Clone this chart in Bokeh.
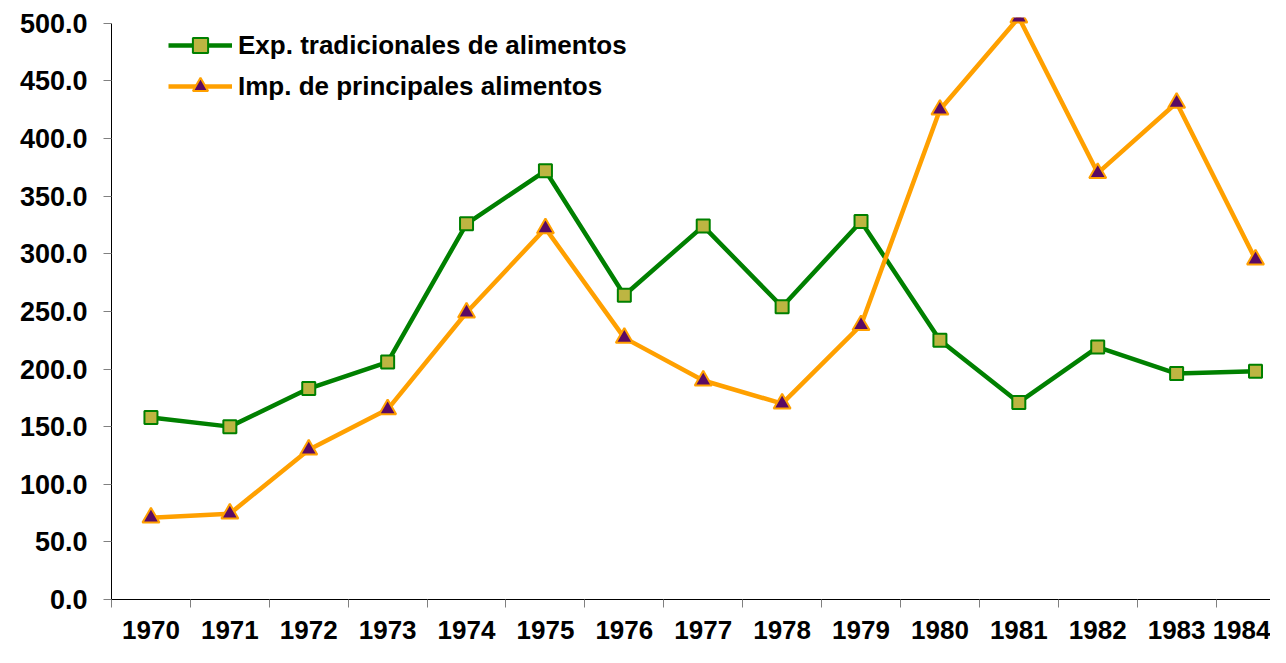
from bokeh.plotting import figure
from bokeh.models import (Range1d, FixedTicker, PrintfTickFormatter, Legend, LegendItem,
                          ColumnDataSource, LinearAxis)
from bokeh.embed import file_html
from bokeh.resources import INLINE

years = ["1970", "1971", "1972", "1973", "1974", "1975", "1976", "1977",
         "1978", "1979", "1980", "1981", "1982", "1983", "1984"]
exp_trad = [158, 150, 183, 206, 326, 372, 264, 324, 254, 328, 225, 171, 219, 196, 198]
imp_princ = [71, 74.5, 130, 165, 249, 322, 227, 190, 170, 238, 425, 505, 370, 431, 295]
y_ticks = [0, 50, 100, 150, 200, 250, 300, 350, 400, 450, 500]

xs = [i + 0.5 for i in range(len(years))]
src = ColumnDataSource(dict(x=xs, exp=exp_trad, imp=imp_princ))

W, H = 1270, 647
p = figure(width=W, height=H, output_backend="svg", toolbar_location=None,
           x_range=Range1d(0, 14.69), y_range=Range1d(0, 505),
           min_border_left=111, min_border_right=0, min_border_top=17, min_border_bottom=48,
           x_axis_location=None, y_axis_location=None)
p.outline_line_color = None
p.xgrid.visible = False
p.ygrid.visible = False
p.background_fill_color = "white"
p.border_fill_color = "white"

FONT = "Liberation Sans"

yax = LinearAxis(ticker=FixedTicker(ticks=y_ticks), formatter=PrintfTickFormatter(format="%.1f"))
yax.bounds = (0, 500)
yax.axis_line_color = "black"
yax.axis_line_width = 1
yax.major_tick_in = 0
yax.major_tick_out = 8
yax.major_tick_line_color = "#808080"
yax.minor_tick_line_color = None
yax.major_label_text_font = FONT
yax.major_label_text_font_style = "bold"
yax.major_label_text_font_size = "27px"
yax.major_label_text_color = "black"
yax.major_label_standoff = 16
p.add_layout(yax, "left")

xax = LinearAxis(ticker=FixedTicker(ticks=xs, minor_ticks=list(range(0, 15))),
                 major_label_overrides={x: y for x, y in zip(xs, years)})
xax.axis_line_color = "black"
xax.axis_line_width = 1
xax.major_tick_in = 0
xax.major_tick_out = 0
xax.major_tick_line_color = None
xax.minor_tick_in = 0
xax.minor_tick_out = 8
xax.minor_tick_line_color = "#808080"
xax.major_label_text_font = FONT
xax.major_label_text_font_style = "bold"
xax.major_label_text_font_size = "26px"
xax.major_label_text_color = "black"
xax.major_label_standoff = 13
p.add_layout(xax, "below")

GREEN = "#008000"
ORANGE = "#FFA000"

l1 = p.line("x", "exp", source=src, line_color=GREEN, line_width=4.5)
s1 = p.scatter("x", "exp", source=src, marker="square", size=13,
               fill_color="#BDB542", line_color=GREEN, line_width=2)
l2 = p.line("x", "imp", source=src, line_color=ORANGE, line_width=4.5)
s2 = p.scatter("x", "imp", source=src, marker="triangle", size=17,
               fill_color="#5A0A64", line_color=ORANGE, line_width=2)

legend = Legend(items=[LegendItem(label="Exp. tradicionales de alimentos", renderers=[l1, s1]),
                       LegendItem(label="Imp. de principales alimentos", renderers=[l2, s2])],
                location=(57, 494), orientation="vertical")
legend.background_fill_alpha = 0
legend.border_line_color = None
legend.padding = 0
legend.margin = 0
legend.spacing = 3
legend.glyph_width = 64
legend.glyph_height = 38
legend.label_height = 20
legend.label_standoff = 6
legend.label_text_font = FONT
legend.label_text_font_style = "bold"
legend.label_text_font_size = "26px"
legend.label_text_color = "black"
p.add_layout(legend, "center")

open("out.html", "w").write(file_html(p, INLINE))
